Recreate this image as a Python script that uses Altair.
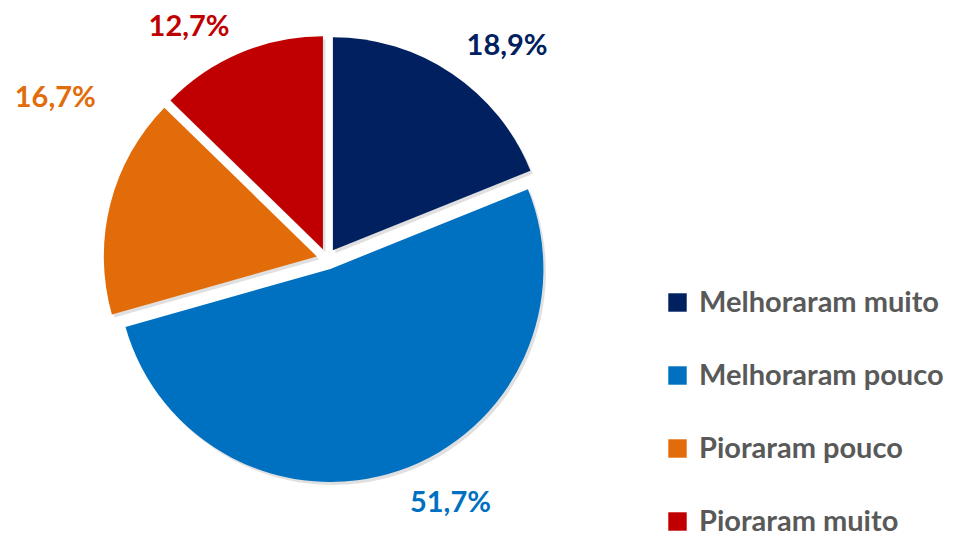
import altair as alt
import pandas as pd

# ---- data ----
categories = ["Melhoraram muito", "Melhoraram pouco", "Pioraram pouco", "Pioraram muito"]
values = [18.9, 51.7, 16.7, 12.7]
labels = ["18,9%", "51,7%", "16,7%", "12,7%"]

# ---- styling / layout ----
colors = ["#002060", "#0070C0", "#E36C0A", "#C00000"]
FONT = "Lato"
CX, CY = 319, 251          # pie centre (chart coords)
R = 213                    # pie radius
EXPLODE = 10.5             # slice explosion distance
R_LABEL = 270
label_shift = {            # (dx, dy) nudges for the label of each slice
    "Melhoraram muito": (29, 11),
    "Melhoraram pouco": (36, -11),
    "Pioraram pouco": (-10, -95),
    "Pioraram muito": (-33, 17),
}

df = pd.DataFrame({"cat": categories, "value": values, "label": labels,
                   "idx": list(range(len(categories)))})

base = (
    alt.Chart(df)
    .transform_window(cum="sum(value)", sort=[alt.SortField("idx")], frame=[None, 0])
    .transform_joinaggregate(total="sum(value)")
    .transform_calculate(
        t0="(datum.cum - datum.value) / datum.total * 2 * PI",
        t1="datum.cum / datum.total * 2 * PI",
        mid="(datum.cum - datum.value / 2) / datum.total * 2 * PI",
    )
    .transform_calculate(
        cx=f"{CX} + {EXPLODE} * sin(datum.mid)",
        cy=f"{CY} - {EXPLODE} * cos(datum.mid)",
        sx=f"{CX} + 2.5 + {EXPLODE} * sin(datum.mid)",
        sy=f"{CY} + 3 - {EXPLODE} * cos(datum.mid)",
        lx=f"{CX} + {R_LABEL} * sin(datum.mid)",
        ly=f"{CY} - {R_LABEL} * cos(datum.mid)",
    )
)

shadow = base.mark_arc(outerRadius=R, innerRadius=0, color="#000000", opacity=0.12).encode(
    theta=alt.Theta("t0:Q", scale=None),
    theta2="t1:Q",
    x=alt.X("sx:Q", scale=None, axis=None, stack=False),
    y=alt.Y("sy:Q", scale=None, axis=None, stack=False),
)

arcs = base.mark_arc(outerRadius=R, innerRadius=0).encode(
    theta=alt.Theta("t0:Q", scale=None),
    theta2="t1:Q",
    x=alt.X("cx:Q", scale=None, axis=None, stack=False),
    y=alt.Y("cy:Q", scale=None, axis=None, stack=False),
    color=alt.Color(
        "cat:N",
        scale=alt.Scale(domain=categories, range=colors),
        sort=categories,
        legend=alt.Legend(
            title=None,
            orient="none",
            legendX=655,
            legendY=280,
            symbolType="square",
            symbolSize=340,
            symbolStrokeWidth=0,
            labelFont=FONT,
            labelFontSize=29,
            labelFontWeight="bold",
            labelColor="#595959",
            labelOffset=7,
            rowPadding=43,
            labelLimit=400,
        ),
    ),
)

text_layers = []
for cat, col in zip(categories, colors):
    dx, dy = label_shift[cat]
    text_layers.append(
        base.transform_filter(alt.datum.cat == cat)
        .mark_text(font=FONT, fontSize=29, fontWeight="bold", color=col,
                   align="center", baseline="middle", dx=dx, dy=dy)
        .encode(
            x=alt.X("lx:Q", scale=None, axis=None, stack=False),
            y=alt.Y("ly:Q", scale=None, axis=None, stack=False),
            text="label:N",
        )
    )

chart = (
    alt.layer(shadow, arcs, *text_layers)
    .properties(width=939, height=529, padding=0, autosize=alt.AutoSizeParams(type="none"))
    .configure_view(strokeWidth=0, strokeOpacity=0)
)

chart.save("out.html", embed_options={"renderer": "svg", "actions": False})
